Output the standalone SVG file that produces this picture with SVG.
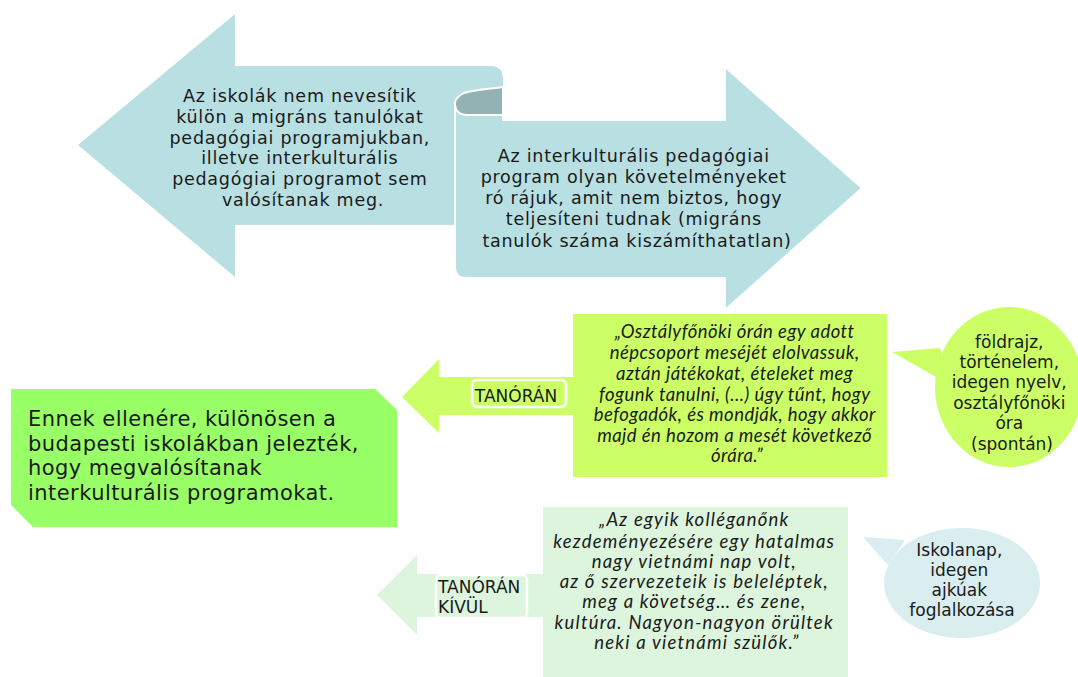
<svg xmlns="http://www.w3.org/2000/svg" width="1078" height="677" viewBox="0 0 1078 677">
<style>
.teal{fill:#b8dfe2}
.roll{fill:#93b2b4}
.t{font-family:"DejaVu Sans",Verdana,sans-serif;fill:#1a1a1a}
.big{font-size:17.5px;letter-spacing:0.75px}
.q{font-family:Lato,"Open Sans",sans-serif;font-style:italic;fill:#1a1a1a;font-size:18.5px}
.lbl{stroke:#ffffff;stroke-width:2.5}
.sm{font-size:17px}
</style>
<rect width="1078" height="677" fill="#ffffff"/>
<g id="left-arrow">
<path class="teal" d="M78,145 L235,14 L235,66 L462,66 L462,225 L235,225 L235,277 Z"/>
<text class="t big" text-anchor="middle">
<tspan x="303" y="102">Az iskolák nem nevesítik</tspan>
<tspan x="303" y="123">külön a migráns tanulókat</tspan>
<tspan x="303" y="143.5">pedagógiai programjukban,</tspan>
<tspan x="303" y="164">illetve interkulturális</tspan>
<tspan x="303" y="185">pedagógiai programot sem</tspan>
<tspan x="303" y="205.5">valósítanak meg.</tspan>
</text>
</g>
<g id="right-arrow">
<path class="teal" stroke="#ffffff" stroke-width="2" d="M455,108 L503,108 L503,120 L725,120 L725,67 L862,188 L725,310 L725,278 L466,278 Q455,278 455,267 Z"/>
<path class="teal" d="M450,66 L490,66 Q503,66 503,79 L503,88 L450,100 Z"/>
<path class="roll" stroke="#ffffff" stroke-width="2" d="M503,87 C490,89 470,90 462,94 Q454,99 455,105 Q456,115 468,115 L503,115 Z"/>
<text class="t big" text-anchor="middle">
<tspan x="637" y="161.5">Az interkulturális pedagógiai</tspan>
<tspan x="637" y="183">program olyan követelményeket</tspan>
<tspan x="637" y="204">ró rájuk, amit nem biztos, hogy</tspan>
<tspan x="637" y="225">teljesíteni tudnak (migráns</tspan>
<tspan x="637" y="246.5">tanulók száma kiszámíthatatlan)</tspan>
</text>
</g>
<g id="main-box">
<path fill="#99ff66" d="M11,389 L375,389 L397,410 L397,527 L33,527 L11,505 Z"/>
<text class="t" font-size="21" letter-spacing="0.45">
<tspan x="28" y="426">Ennek ellenére,  különösen a</tspan>
<tspan x="28" y="451">budapesti iskolákban jelezték,</tspan>
<tspan x="28" y="475">hogy megvalósítanak</tspan>
<tspan x="28" y="500">interkulturális programokat.</tspan>
</text>
</g>
<g id="connectors">
<path fill="#ccff66" d="M402,397 L439,359 L439,377 L575,377 L575,415 L439,415 L439,433 Z"/>
<path fill="#dcf5dc" d="M377,595 L417,555 L417,574 L545,574 L545,617 L417,617 L417,635 Z"/>
</g>
<g id="label-tanoran">
<rect class="lbl" x="472" y="380" width="94" height="27" rx="5" fill="#ccff66"/>
<text class="t sm" x="516" y="402" text-anchor="middle">TANÓRÁN</text>
</g>
<g id="label-tanoran-kivul">
<rect class="lbl" x="436" y="575" width="91" height="43" rx="5" fill="#dcf5dc"/>
<text class="t sm"><tspan x="438" y="593">TANÓRÁN</tspan><tspan x="438" y="613">KÍVÜL</tspan></text>
</g>
<g id="quote-1">
<rect x="573" y="314" width="314" height="163" fill="#ccff66"/>
<text class="q" letter-spacing="0.45" text-anchor="middle">
<tspan x="737" y="338">„Osztályfőnöki órán egy adott</tspan>
<tspan x="737" y="359">népcsoport meséjét elolvassuk,</tspan>
<tspan x="737" y="380">aztán játékokat, ételeket meg</tspan>
<tspan x="737" y="400.5">fogunk tanulni, (…) úgy tűnt, hogy</tspan>
<tspan x="737" y="421">befogadók, és mondják, hogy akkor</tspan>
<tspan x="737" y="441.5">majd én  hozom a  mesét következő</tspan>
<tspan x="737" y="462">órára.”</tspan>
</text>
</g>
<g id="bubble-1">
<path fill="#ccff66" d="M892,352 L940,348 L950,385 Z"/>
<ellipse cx="1009" cy="387" rx="74" ry="80" fill="#ccff66"/>
<text class="t sm" text-anchor="middle">
<tspan x="1012" y="348">földrajz,</tspan>
<tspan x="1012" y="368">történelem,</tspan>
<tspan x="1012" y="388">idegen nyelv,</tspan>
<tspan x="1012" y="409">osztályfőnöki</tspan>
<tspan x="1012" y="429">óra</tspan>
<tspan x="1012" y="450">(spontán)</tspan>
</text>
</g>
<g id="quote-2">
<rect x="543" y="507" width="305" height="170" fill="#dcf5dc"/>
<text class="q" letter-spacing="1.2" text-anchor="middle">
<tspan x="697" y="526">„Az egyik kolléganőnk</tspan>
<tspan x="697" y="548">kezdeményezésére egy hatalmas</tspan>
<tspan x="697" y="568">nagy vietnámi nap volt,</tspan>
<tspan x="697" y="588">az ő szervezeteik is beleléptek,</tspan>
<tspan x="697" y="608">meg a követség… és zene,</tspan>
<tspan x="697" y="629">kultúra. Nagyon-nagyon örültek</tspan>
<tspan x="697" y="649">neki a vietnámi szülők.”</tspan>
</text>
</g>
<g id="bubble-2">
<path fill="#daedef" d="M863,537 L905,540 L888,565 Z"/>
<ellipse cx="962" cy="583" rx="78" ry="55" fill="#daedef"/>
<text class="t sm" text-anchor="middle">
<tspan x="962" y="556">Iskolanap,</tspan>
<tspan x="962" y="576">idegen</tspan>
<tspan x="962" y="596">ajkúak</tspan>
<tspan x="962" y="616">foglalkozása</tspan>
</text>
</g>
</svg>
